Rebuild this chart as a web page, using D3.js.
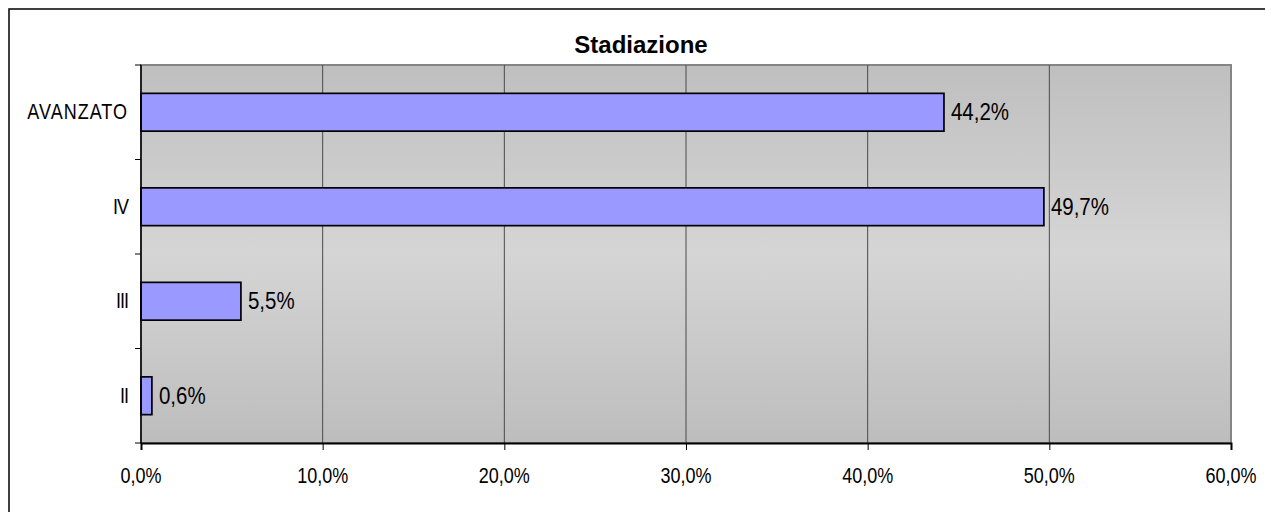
<!DOCTYPE html>
<html lang="it">
<head>
<meta charset="UTF-8">
<title>Stadiazione</title>
<style>
  body { margin:0; background:#fff; }
  svg { display:block; }
  text { font-family: "Liberation Sans", Arial, sans-serif; fill:#000; }
</style>
</head>
<body>
<svg width="1265" height="512"></svg>
<script src="https://cdnjs.cloudflare.com/ajax/libs/d3/7.8.5/d3.min.js"></script>
<script>
const categories = ["AVANZATO", "IV", "III", "II"];
const values = [44.2, 49.7, 5.5, 0.6];
const xTicks = [0, 10, 20, 30, 40, 50, 60];

const svg = d3.select("svg");
const plot = { left: 141, top: 65, right: 1231, bottom: 443 };
const fmt = v => d3.format(".1f")(v).replace(".", ",") + "%";

const x = d3.scaleLinear().domain([0, 60]).range([plot.left, plot.right]);
const y = d3.scaleBand().domain(categories).range([plot.top, plot.bottom]).padding(0);

// outer chart frame
svg.append("rect")
  .attr("x", 9).attr("y", 9).attr("width", 1400).attr("height", 700)
  .attr("fill", "#fff").attr("stroke", "#000").attr("stroke-width", 1.5);

// plot background gradient
const grad = svg.append("defs").append("linearGradient")
  .attr("id", "bg").attr("x1", 0).attr("y1", 0).attr("x2", 0).attr("y2", 1);
grad.append("stop").attr("offset", "0%").attr("stop-color", "#bfbfbf");
grad.append("stop").attr("offset", "50%").attr("stop-color", "#d5d5d5");
grad.append("stop").attr("offset", "100%").attr("stop-color", "#bdbdbd");

svg.append("rect")
  .attr("x", plot.left).attr("y", plot.top)
  .attr("width", plot.right - plot.left).attr("height", plot.bottom - plot.top)
  .attr("fill", "url(#bg)").attr("stroke", "#858585").attr("stroke-width", 2);

// vertical gridlines
svg.append("g").selectAll("line").data(xTicks.slice(1, -1)).join("line")
  .attr("x1", d => x(d)).attr("x2", d => x(d))
  .attr("y1", plot.top).attr("y2", plot.bottom)
  .attr("stroke", "#4a4a4a").attr("stroke-width", 1);

// title
svg.append("text")
  .attr("x", 641).attr("y", 53)
  .attr("text-anchor", "middle")
  .attr("font-weight", "bold").attr("font-size", 24)
  .text("Stadiazione");

// bars
const barH = y.bandwidth() * 0.4;
svg.append("g").selectAll("rect").data(values).join("rect")
  .attr("x", x(0))
  .attr("y", (d, i) => y(categories[i]) + (y.bandwidth() - barH) / 2)
  .attr("width", d => x(d) - x(0))
  .attr("height", barH)
  .attr("fill", "#9999ff").attr("stroke", "#000").attr("stroke-width", 1.7);

// value labels
svg.append("g").selectAll("text").data(values).join("text")
  .attr("transform", (d, i) =>
    `translate(${x(d) + 7},${y(categories[i]) + y.bandwidth() / 2 + 8}) scale(1,1.2)`)
  .attr("font-size", 20.5)
  .text(d => fmt(d));

// x axis
const xAxis = svg.append("g")
  .attr("transform", `translate(0,${plot.bottom})`)
  .call(d3.axisBottom(x).tickValues(xTicks).tickSize(7).tickFormat(""));
xAxis.select(".domain").attr("stroke", "#000").attr("stroke-width", 2);
xAxis.selectAll(".tick line").attr("stroke", "#000");

svg.append("g").selectAll("text").data(xTicks).join("text")
  .attr("transform", d => `translate(${x(d)},483) scale(1,1.2)`)
  .attr("text-anchor", "middle").attr("font-size", 18)
  .text(d => fmt(d));

// y axis line and boundary ticks
svg.append("line")
  .attr("x1", plot.left).attr("x2", plot.left)
  .attr("y1", plot.top).attr("y2", plot.bottom)
  .attr("stroke", "#000").attr("stroke-width", 1.5);

const bounds = categories.map(c => y(c)).concat([plot.bottom]);
svg.append("g").selectAll("line").data(bounds).join("line")
  .attr("x1", plot.left - 6).attr("x2", plot.left)
  .attr("y1", d => d).attr("y2", d => d)
  .attr("stroke", "#000");

svg.append("g").selectAll("text").data(categories).join("text")
  .attr("transform", d => `translate(128,${y(d) + y.bandwidth() / 2 + 7}) scale(1,1.2)`)
  .attr("text-anchor", "end").attr("font-size", 18)
  .attr("letter-spacing", d => d.length > 3 ? 1 : -1)
  .text(d => d);
</script>
</body>
</html>
